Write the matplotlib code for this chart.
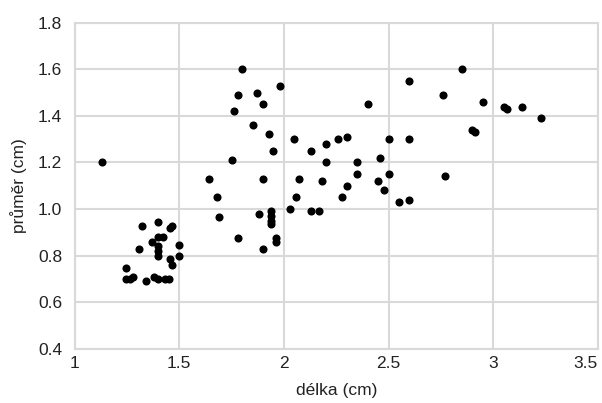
import matplotlib
matplotlib.use("Agg")
import matplotlib.pyplot as plt

# délka (cm) / průměr (cm)
delka = [
    1.13, 1.80, 1.78, 1.76, 1.87, 1.85, 1.75, 1.64, 1.68, 1.98,
    1.90, 1.93, 2.05, 1.95, 1.90, 1.69, 1.88, 1.94, 1.94, 1.94,
    1.94, 2.03, 1.78, 1.96, 1.96, 1.90, 2.06,
    2.60, 2.40, 2.13, 2.20, 2.26, 2.30, 2.50, 2.60, 2.20, 2.35,
    2.46, 2.07, 2.18, 2.35, 2.50, 2.45, 2.30, 2.48, 2.28, 2.55,
    2.60, 2.13, 2.17,
    2.85, 2.76, 2.95, 3.05, 3.065, 3.14, 3.23, 2.90, 2.915, 2.77,
    1.32, 1.40, 1.455, 1.467, 1.37, 1.40, 1.42, 1.40, 1.40, 1.40,
    1.50, 1.306, 1.50, 1.455, 1.467, 1.245, 1.245, 1.265, 1.28, 1.34,
    1.38, 1.40, 1.43, 1.45,
]
prumer = [
    1.20, 1.60, 1.49, 1.42, 1.50, 1.36, 1.21, 1.13, 1.05, 1.53,
    1.45, 1.32, 1.30, 1.25, 1.13, 0.965, 0.98, 0.99, 0.97, 0.95,
    0.935, 1.00, 0.876, 0.876, 0.86, 0.83, 1.05,
    1.55, 1.45, 1.25, 1.28, 1.30, 1.31, 1.30, 1.30, 1.20, 1.20,
    1.22, 1.13, 1.12, 1.15, 1.15, 1.12, 1.10, 1.08, 1.05, 1.03,
    1.04, 0.99, 0.99,
    1.60, 1.49, 1.46, 1.44, 1.43, 1.44, 1.39, 1.34, 1.33, 1.14,
    0.928, 0.946, 0.918, 0.928, 0.858, 0.88, 0.88, 0.84, 0.82, 0.80,
    0.848, 0.828, 0.80, 0.785, 0.76, 0.746, 0.70, 0.70, 0.71, 0.69,
    0.71, 0.70, 0.70, 0.70,
]

x_ticks = [1, 1.5, 2, 2.5, 3, 3.5]
x_labels = ["1", "1.5", "2", "2.5", "3", "3.5"]
y_ticks = [0.4, 0.6, 0.8, 1.0, 1.2, 1.4, 1.6, 1.8]
y_labels = ["0.4", "0.6", "0.8", "1.0", "1.2", "1.4", "1.6", "1.8"]

plt.rcParams["font.family"] = ["Liberation Sans", "DejaVu Sans"]

fig = plt.figure(figsize=(6.02, 4.03), dpi=100)
ax = fig.add_axes([0.124, 0.134, 0.869, 0.810])

ax.scatter(delka, prumer, s=34, color="black", zorder=3, linewidths=0)

ax.set_xlim(1, 3.5)
ax.set_ylim(0.4, 1.8)
ax.set_xticks(x_ticks)
ax.set_xticklabels(x_labels)
ax.set_yticks(y_ticks)
ax.set_yticklabels(y_labels)
ax.tick_params(length=0, labelsize=12.5, colors="#222222")
ax.tick_params(axis="y", pad=9)
ax.tick_params(axis="x", pad=5)
# last x label sits inside the figure edge, as in the reference
ax.get_xticklabels()[-1].set_horizontalalignment("right")
ax.grid(True, color="#d9d9d9", linewidth=1.5)
ax.set_axisbelow(True)
for sp in ax.spines.values():
    sp.set_color("#d9d9d9")
    sp.set_linewidth(1.5)

ax.set_xlabel("délka (cm)", fontsize=12.5, labelpad=9, color="#222222")
ax.set_ylabel("průměr (cm)", fontsize=12.5, labelpad=8, color="#222222")

fig.savefig("out.png", dpi=100)
